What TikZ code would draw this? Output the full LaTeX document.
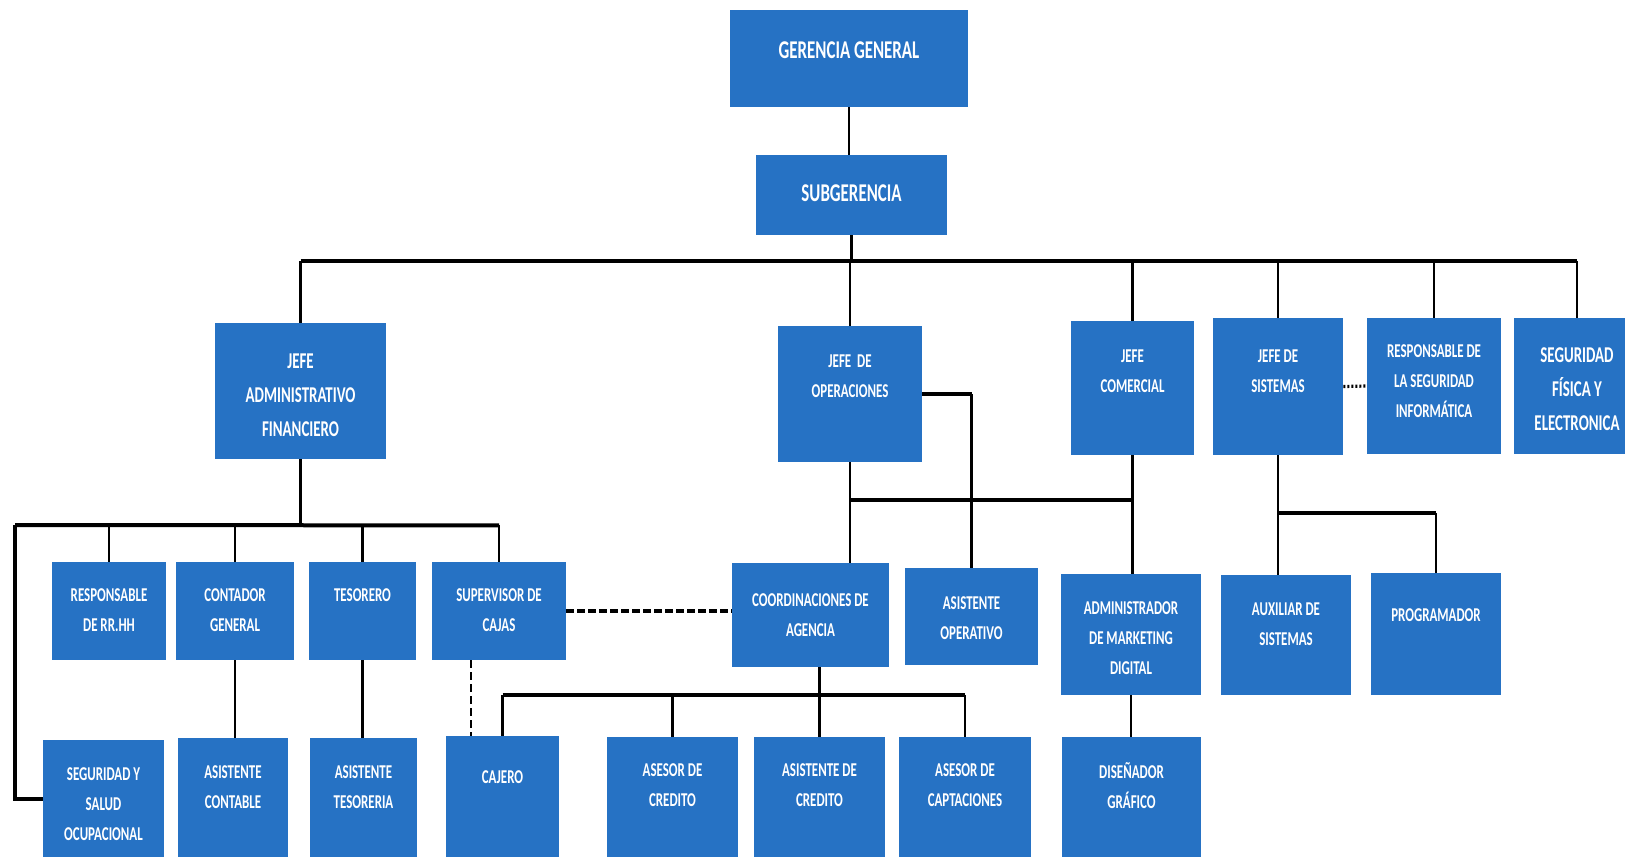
\documentclass[tikz,border=0pt]{standalone}
\usepackage{fontspec}
\setmainfont{Carlito}[FakeStretch=0.66]
\usetikzlibrary{positioning, fit, calc}
\definecolor{orgblue}{RGB}{38,114,196}

\begin{document}
\begin{tikzpicture}[
    x=0.5pt, y=-0.5pt,
    unit/.style={rectangle, fill=orgblue, inner sep=0pt},
    lbl/.style={text=white, align=center, inner sep=0pt, font=\fontsize{9.8}{15}\selectfont\bfseries},
    head/.style={lbl, font=\fontsize{12.8}{15}\selectfont\bfseries},
    big/.style={lbl, font=\fontsize{11.3}{17}\selectfont\bfseries},
    link/.style={draw=black, line width=1.3pt},
    bus/.style={draw=black, line width=2pt},
    dline/.style={draw=black, line width=1.8pt, dash pattern=on 4pt off 1.5pt},
    dthin/.style={draw=black, line width=1.1pt, dash pattern=on 4pt off 2pt},
    dots/.style={draw=black, line width=1.6pt, dash pattern=on 1pt off 1pt}
]
\useasboundingbox (0,0) rectangle (1625,857);
\clip (0,0) rectangle (1625,857);

% Management
\node[unit, fit={(730,10) (968,107)}] (gg) {};
\node[head] (gg-t) at (849,50) {GERENCIA GENERAL};
\node[unit, fit={(756,155) (947,235)}] (sg) {};
\node[head] (sg-t) at (851.5,193) {SUBGERENCIA};

% Heads
\node[unit, fit={(215,323) (386,459)}] (jaf) {};
\node[big] (jaf-t) at (300.5,395) {JEFE\\ADMINISTRATIVO\\FINANCIERO};
\node[unit, fit={(778,326) (922,462)}] (jop) {};
\node[lbl] (jop-t) at (850,376) {JEFE\ \ DE\\OPERACIONES};
\node[unit, fit={(1071,321) (1194,455)}] (jcom) {};
\node[lbl] (jcom-t) at (1132.5,371) {JEFE\\COMERCIAL};
\node[unit, fit={(1213,318) (1343,455)}] (jsis) {};
\node[lbl] (jsis-t) at (1278,371) {JEFE DE\\SISTEMAS};
\node[unit, fit={(1367,318) (1501,454)}] (rsi) {};
\node[lbl] (rsi-t) at (1434,381) {RESPONSABLE DE\\LA SEGURIDAD\\INFORMÁTICA};
\node[unit, fit={(1514,318) (1640,454)}] (sfe) {};
\node[big] (sfe-t) at (1577,389) {SEGURIDAD\\FÍSICA Y\\ELECTRONICA};

% Second level
\node[unit, fit={(52,562) (166,660)}] (rrhh) {};
\node[lbl] (rrhh-t) at (109,610) {RESPONSABLE\\DE RR.HH};
\node[unit, fit={(176,562) (294,660)}] (cg) {};
\node[lbl] (cg-t) at (235,610) {CONTADOR\\GENERAL};
\node[unit, fit={(309,562) (416,660)}] (tes) {};
\node[lbl] (tes-t) at (362.5,595) {TESORERO};
\node[unit, fit={(432,562) (566,660)}] (sup) {};
\node[lbl] (sup-t) at (499,610) {SUPERVISOR DE\\CAJAS};
\node[unit, fit={(732,563) (889,667)}] (coord) {};
\node[lbl] (coord-t) at (810.5,615) {COORDINACIONES DE\\AGENCIA};
\node[unit, fit={(905,568) (1038,665)}] (aop) {};
\node[lbl] (aop-t) at (971.5,618) {ASISTENTE\\OPERATIVO};
\node[unit, fit={(1061,574) (1201,695)}] (amd) {};
\node[lbl] (amd-t) at (1131,638) {ADMINISTRADOR\\DE MARKETING\\DIGITAL};
\node[unit, fit={(1221,575) (1351,695)}] (aux) {};
\node[lbl] (aux-t) at (1286,624) {AUXILIAR DE\\SISTEMAS};
\node[unit, fit={(1371,573) (1501,695)}] (prog) {};
\node[lbl] (prog-t) at (1436,615) {PROGRAMADOR};

% Third level
\node[unit, fit={(43,740) (164,857)}] (ssl) {};
\node[lbl] (ssl-t) at (103.5,804) {SEGURIDAD Y\\SALUD\\OCUPACIONAL};
\node[unit, fit={(178,738) (288,857)}] (acont) {};
\node[lbl] (acont-t) at (233,787) {ASISTENTE\\CONTABLE};
\node[unit, fit={(310,738) (417,857)}] (ates) {};
\node[lbl] (ates-t) at (363.5,787) {ASISTENTE\\TESORERIA};
\node[unit, fit={(446,736) (559,857)}] (caj) {};
\node[lbl] (caj-t) at (502.5,777) {CAJERO};
\node[unit, fit={(607,737) (738,857)}] (acr) {};
\node[lbl] (acr-t) at (672.5,785) {ASESOR DE\\CREDITO};
\node[unit, fit={(754,737) (885,857)}] (asc) {};
\node[lbl] (asc-t) at (819.5,785) {ASISTENTE DE\\CREDITO};
\node[unit, fit={(899,737) (1031,857)}] (acap) {};
\node[lbl] (acap-t) at (965,785) {ASESOR DE\\CAPTACIONES};
\node[unit, fit={(1062,737) (1201,857)}] (dg) {};
\node[lbl] (dg-t) at (1131.5,786) {DISEÑADOR\\GRÁFICO};

% Junctions
\path (sg.south) ++(0,26) coordinate (bus-top);
\path (jaf.south) ++(0,66) coordinate (bus-adm);
\coordinate (adm-l) at (15,525);
\path (jcom.south) ++(0,45) coordinate (com-j);
\path (jsis.south) ++(0,58) coordinate (sis-j);
\path (coord.south) ++(0,28) coordinate (age-j);
\coordinate (sup-d) at ($(sup.south west)!0.29!(sup.south east)$);

% Top tree
\draw[link] (gg.south) -- (gg.south |- sg.north);
\draw[link] (sg.south) -- (bus-top);
\draw[bus] (bus-top -| jaf.north) -- (bus-top -| sfe.north);
\foreach \j in {jaf, jop, jcom, jsis, rsi, sfe}
    \draw[link] (bus-top -| \j.north) -- (\j.north);

% Administrative branch
\draw[link] (jaf.south) -- (bus-adm);
\draw[bus] (adm-l) -- (bus-adm -| sup.north);
\foreach \n in {rrhh, cg, tes, sup}
    \draw[link] (bus-adm -| \n.north) -- (\n.north);
\draw[bus] (adm-l) |- (ssl.west);
\draw[link] (cg.south) -- (cg.south |- acont.north);
\draw[link] (tes.south) -- (tes.south |- ates.north);
\draw[dline] (sup.east) -- (sup.east -| coord.west);
\draw[dthin] (sup-d) -- (sup-d |- caj.north);

% Operations and commercial
\draw[link] (jop.south) -- (jop.south |- coord.north);
\draw[bus] (jop.south |- com-j) -- (com-j);
\draw[link] (jcom.south) -- (jcom.south |- amd.north);
\draw[bus] (jop.east) -- (jop.east -| aop.north);
\draw[link] (jop.east -| aop.north) -- (aop.north);
\draw[link] (amd.south) -- (amd.south |- dg.north);

% Systems
\draw[link] (jsis.south) -- (jsis.south |- aux.north);
\draw[bus] (sis-j) -- (sis-j -| prog.north);
\draw[link] (sis-j -| prog.north) -- (prog.north);
\draw[dots] (jsis.east) -- (rsi.west);

% Agency
\draw[link] (asc.north |- coord.south) -- (asc.north);
\draw[bus] (age-j -| caj.north) -- (age-j -| acap.north);
\foreach \n in {caj, acr, acap}
    \draw[link] (age-j -| \n.north) -- (\n.north);

\end{tikzpicture}
\end{document}
